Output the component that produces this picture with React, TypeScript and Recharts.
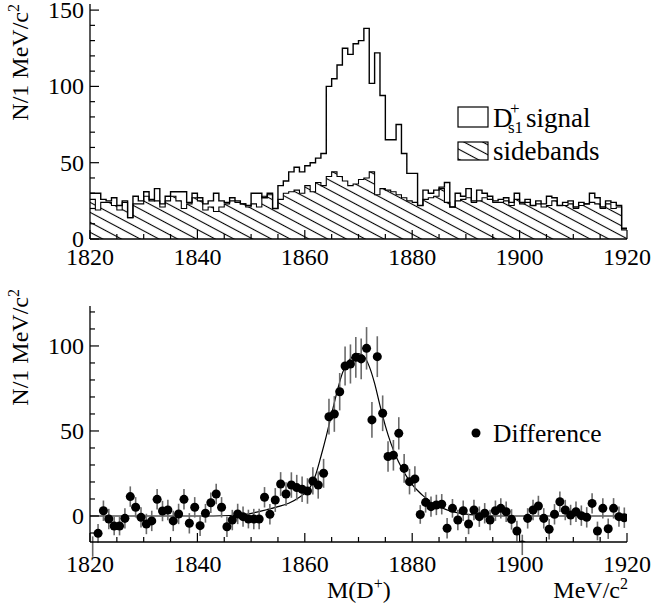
import React from 'react';
import { ComposedChart, Line, Area, Scatter, ErrorBar, XAxis, YAxis } from 'recharts';

const FONT = 'Liberation Serif';

// 1 MeV bins from 1820 to 1920
const BIN_START = 1820;

const signal = [
  30, 30, 26, 25, 27, 22, 25, 14, 28, 25,
  31, 25, 33, 23, 28, 31, 31, 31, 24, 30,
  27, 23, 25, 30, 25, 24, 27, 25, 23, 22,
  30, 30, 27, 30, 20, 35, 38, 44, 47, 44,
  48, 50, 53, 56, 100, 105, 114, 125, 121, 128,
  130, 138, 102, 122, 94, 65, 65, 75, 56, 43,
  43, 22, 32, 30, 32, 34, 37, 21, 30, 28,
  33, 25, 32, 30, 28, 25, 26, 27, 24, 30,
  24, 26, 22, 25, 23, 28, 27, 22, 24, 25,
  21, 24, 23, 30, 27, 21, 25, 24, 22, 7,
];

const sidebands = [
  26, 19, 24, 24, 22, 19, 24, 14, 23, 23,
  28, 26, 25, 21, 25, 28, 25, 20, 23, 27,
  25, 19, 21, 18, 21, 23, 25, 24, 23, 21,
  23, 21, 28, 29, 20, 26, 30, 31, 32, 30,
  35, 31, 37, 35, 41, 44, 41, 38, 35, 36,
  39, 40, 44, 29, 33, 32, 31, 29, 27, 25,
  24, 22, 26, 27, 28, 33, 24, 21, 25, 26,
  27, 24, 25, 27, 26, 24, 24, 25, 22, 26,
  23, 24, 22, 23, 21, 22, 25, 22, 22, 23,
  20, 22, 23, 24, 23, 20, 23, 20, 21, 6,
];

const difference = [
  -18, -10.2, 3.1, -1.8, -5.9, -5.9, -1.4, 11.4, 5.1, -0.8,
  -4.7, -2.9, 9.8, 2.9, 3.5, -2.9, 1.2, 9.8, -4.3, 5.1,
  -5.7, 1.6, 7.8, 12.9, 5.1, -6.3, -2.4, 1.2, -0.4, -1.8,
  -1.8, -1.8, 11, 1, 9.4, 18.8, 12.9, 18.2, 16.7, 15.7,
  14.7, 20.6, 18.2, 25.1, 58.4, 60, 73.1, 88.2, 89.4, 93.3,
  92.4, 98.6, 56.5, 93.7, 60.4, 35, 35.7, 48.6, 28, 20.2,
  21.8, 0.9, 8, 5.5, 6.5, 6.9, -7.2, 4.5, -2.4, 3.1,
  -4.7, 3.5, -0.4, 1.6, -2.4, 3.1, 4.5, 2.5, -2, -8.8,
  -17, -1.4, 3.5, 5.9, -1.4, -7.8, 1, 8.4, 3.5, 0.6,
  2.5, 0.2, -0.8, 7.4, -8.8, 4.5, -7.5, 4.5, -0.4, -1,
];

const differenceErr = [
  6, 5.5, 6, 6, 5.5, 5.5, 6, 6, 6, 6,
  6, 6, 6, 6, 6, 6, 6, 6, 6, 6,
  6, 5.5, 6, 6, 6, 6, 6, 6, 6, 5.5,
  6, 6, 6, 6, 7, 7, 7, 7.5, 7.5, 7.5,
  7.5, 8, 8, 8.5, 10.5, 10.5, 11, 11.5, 11.5, 12,
  12, 12.5, 10.5, 12, 10.5, 9, 9, 9.5, 8.5, 7.5,
  7.5, 5.5, 6, 6, 6, 6, 6, 5.5, 6, 6,
  6, 6, 6, 6, 6, 6, 6, 6, 6, 6,
  6, 6, 6, 6, 6, 6, 6, 6, 6, 6,
  6, 6, 6, 6, 5.5, 6, 6, 6, 6, 6,
];

// fitted line shape
const fitMass = [
  1820, 1840, 1846, 1849, 1852, 1855, 1857, 1859, 1860, 1861,
  1862, 1863, 1864, 1865, 1866, 1867, 1868, 1869, 1870, 1871,
  1872, 1873, 1874, 1875, 1876, 1877, 1878, 1879, 1880, 1881,
  1882, 1883, 1884, 1885, 1887, 1889, 1892, 1896, 1920,
];
const fitValue = [
  0, 0, 0.3, 1, 3, 5.5, 7.5, 11, 13.5, 17,
  24, 35, 47, 60, 73, 84, 90.5, 94, 95.5, 94,
  88, 78, 65, 53, 43, 35, 28.5, 23, 18.5, 15,
  12, 9.5, 7, 5.5, 3, 1.5, 0.5, 0, 0,
];

const massTicks = [
  1820, 1825, 1830, 1835, 1840, 1845, 1850, 1855, 1860, 1865, 1870,
  1875, 1880, 1885, 1890, 1895, 1900, 1905, 1910, 1915, 1920,
];
const massLabels = [1820, 1840, 1860, 1880, 1900, 1920];
const topYTicks = [0, 10, 20, 30, 40, 50, 60, 70, 80, 90, 100, 110, 120, 130, 140, 150];
const topYLabels = [0, 50, 100, 150];
const botYTicks = [-10, 0, 10, 20, 30, 40, 50, 60, 70, 80, 90, 100, 110, 120];
const botYLabels = [0, 50, 100];

const histData = signal.map((s, i) => ({ x: BIN_START + i, sig: s, sb: sidebands[i] }));
histData.push({ x: BIN_START + signal.length, sig: signal[signal.length - 1], sb: sidebands[sidebands.length - 1] });
const diffData = difference.map((d, i) => ({ x: BIN_START + i + 0.5, y: d, err: differenceErr[i] }));
const fitData = fitMass.map((m, i) => ({ x: m, y: fitValue[i] }));

const MAJOR = 9;
const MINOR = 5;
const frame = { stroke: '#000', strokeWidth: 1.3 };
const textStyle = { fontFamily: FONT };

const makeTick = (side: string, labels: number[], labelGap = 26) => (props: any) => {
  const { x, y, payload } = props;
  const v = payload.value;
  const major = labels.includes(v);
  const len = major ? MAJOR : MINOR;
  if (side === 'bottom') {
    return (
      <g>
        <line x1={x} x2={x} y1={y} y2={y - len} stroke="#000" strokeWidth={1.2} />
        {major && (
          <text x={x} y={y + labelGap} textAnchor="middle" fontSize={24} style={textStyle} fill="#000">
            {v}
          </text>
        )}
      </g>
    );
  }
  if (side === 'top') {
    return <line x1={x} x2={x} y1={y} y2={y + len} stroke="#000" strokeWidth={1.2} />;
  }
  if (side === 'left') {
    return (
      <g>
        <line x1={x} x2={x + len} y1={y} y2={y} stroke="#000" strokeWidth={1.2} />
        {major && (
          <text x={x - 6} y={y + 8} textAnchor="end" fontSize={24} style={textStyle} fill="#000">
            {v}
          </text>
        )}
      </g>
    );
  }
  return <line x1={x} x2={x - len} y1={y} y2={y} stroke="#000" strokeWidth={1.2} />;
};

const axisCommon = {
  type: 'number' as const,
  interval: 0 as const,
  tickSize: 0,
  tickMargin: 0,
  tickLine: false,
  axisLine: frame,
  allowDataOverflow: true,
};

const TopPanel = () => (
  <ComposedChart width={654} height={270} data={histData} margin={{ top: 4, right: 27, bottom: 0, left: 0 }}>
    <defs>
      <pattern id="hatchTop" patternUnits="userSpaceOnUse" width="12" height="8.8" patternTransform="rotate(28)">
        <line x1="0" y1="4.4" x2="12" y2="4.4" stroke="#000" strokeWidth="1.1" />
      </pattern>
    </defs>
    <XAxis {...axisCommon} dataKey="x" domain={[1820, 1920]} ticks={massTicks} height={31} tick={makeTick('bottom', massLabels, 26)} />
    <XAxis {...axisCommon} xAxisId="top" orientation="top" dataKey="x" domain={[1820, 1920]} ticks={massTicks} height={0} tick={makeTick('top', massLabels)} />
    <YAxis {...axisCommon} domain={[0, 154]} ticks={topYTicks} width={90} tick={makeTick('left', topYLabels)} />
    <YAxis {...axisCommon} yAxisId="right" orientation="right" domain={[0, 154]} ticks={topYTicks} width={0} tick={makeTick('right', topYLabels)} />
    <Area
      dataKey="sb"
      type="stepAfter"
      stroke="#000"
      strokeWidth={1.1}
      fill="url(#hatchTop)"
      fillOpacity={1}
      baseValue={0}
      isAnimationActive={false}
    />
    <Line dataKey="sig" type="stepAfter" stroke="#000" strokeWidth={1.4} dot={false} isAnimationActive={false} />
  </ComposedChart>
);

const BottomPanel = () => (
  <ComposedChart width={654} height={334} margin={{ top: 36, right: 27, bottom: 0, left: 0 }}>
    <XAxis {...axisCommon} dataKey="x" domain={[1820, 1920]} ticks={massTicks} height={62} tick={makeTick('bottom', massLabels, 30)} />
    <XAxis {...axisCommon} xAxisId="top" orientation="top" dataKey="x" domain={[1820, 1920]} ticks={massTicks} height={0} tick={makeTick('top', massLabels)} />
    <YAxis {...axisCommon} domain={[-15.3, 123.5]} ticks={botYTicks} width={90} tick={makeTick('left', botYLabels)} />
    <YAxis {...axisCommon} yAxisId="right" orientation="right" domain={[-15.3, 123.5]} ticks={botYTicks} width={0} tick={makeTick('right', botYLabels)} />
    <Line data={fitData} dataKey="y" type="monotone" stroke="#000" strokeWidth={1.2} dot={false} isAnimationActive={false} />
    <Scatter data={diffData} dataKey="y" fill="#000" isAnimationActive={false}>
      <ErrorBar dataKey="err" direction="y" width={0} stroke="#6a6a6a" strokeWidth={1.6} />
    </Scatter>
  </ComposedChart>
);

const Overlay = () => (
  <svg width={654} height={604} style={{ position: 'absolute', left: 0, top: 0, pointerEvents: 'none' }}>
    <defs>
      <pattern id="hatchLegend" patternUnits="userSpaceOnUse" width="12" height="8.8" patternTransform="rotate(28)">
        <line x1="0" y1="4.4" x2="12" y2="4.4" stroke="#000" strokeWidth="1.1" />
      </pattern>
    </defs>
    <g style={textStyle} fill="#000">
      <text transform="translate(28,4) rotate(-90)" textAnchor="end" fontSize={24}>
        N/1 MeV/c<tspan dy={-9} fontSize={16}>2</tspan>
      </text>
      <text transform="translate(28,289) rotate(-90)" textAnchor="end" fontSize={24}>
        N/1 MeV/c<tspan dy={-9} fontSize={16}>2</tspan>
      </text>

      <rect x={458} y={107} width={30} height={20} fill="#fff" stroke="#000" strokeWidth={1.2} />
      <text x={493} y={127} fontSize={27}>D</text>
      <text x={510} y={114} fontSize={17}>+</text>
      <text x={508} y={133} fontSize={17}>s1</text>
      <text x={526} y={127} fontSize={27}>signal</text>

      <rect x={458} y={142} width={30} height={18} fill="url(#hatchLegend)" stroke="#000" strokeWidth={1.2} />
      <text x={493} y={160} fontSize={27}>sidebands</text>

      <circle cx={476} cy={433} r={4.5} fill="#000" />
      <text x={493} y={442} fontSize={25.5}>Difference</text>

      <text x={327} y={598} fontSize={24}>
        M(D<tspan dy={-9} fontSize={16}>+</tspan>
        <tspan dy={9}>)</tspan>
      </text>
      <text x={628} y={598} textAnchor="end" fontSize={24}>
        MeV/c<tspan dy={-9} fontSize={16}>2</tspan>
      </text>
    </g>
  </svg>
);

export default function App() {
  return (
    <div style={{ position: 'absolute', left: 0, top: 0, width: 654, height: 604, background: '#fff' }}>
      <div style={{ position: 'absolute', left: 0, top: 0 }}>
        <TopPanel />
      </div>
      <div style={{ position: 'absolute', left: 0, top: 270 }}>
        <BottomPanel />
      </div>
      <Overlay />
    </div>
  );
}
